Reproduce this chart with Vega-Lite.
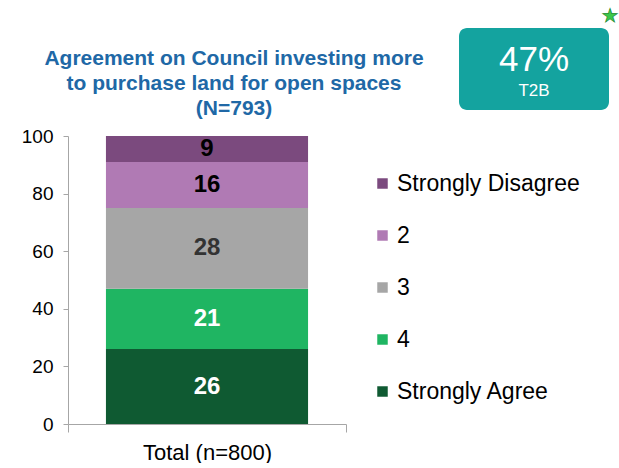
{
  "$schema": "https://vega.github.io/schema/vega-lite/v6.json",
  "background": "white",
  "padding": {"left": 21, "top": 7, "right": 0, "bottom": 0},
  "config": {
    "font": "Liberation Sans",
    "view": {"stroke": null}
  },
  "columns": 2,
  "bounds": "flush",
  "align": "each",
  "spacing": {"row": 26, "column": 59},
  "concat": [
    {
      "width": 332,
      "height": 82,
      "data": {"values": [{"title": "Agreement"}]},
      "mark": {
        "type": "text",
        "text": ["Agreement on Council investing more", "to purchase land for open spaces", "(N=793)"],
        "fontSize": 21,
        "fontWeight": "bold",
        "color": "#2068A6",
        "lineHeight": 25,
        "baseline": "middle",
        "align": "center",
        "dy": -10
      },
      "encoding": {}
    },
    {
      "width": 150,
      "height": 82,
      "view": {"fill": "#14A39F", "stroke": null, "cornerRadius": 8},
      "data": {"values": [{"value": "47%", "label": "T2B"}]},
      "layer": [
        {
          "mark": {"type": "text", "fontSize": 35, "color": "white", "baseline": "middle", "dy": -9},
          "encoding": {"text": {"field": "value", "type": "nominal"}}
        },
        {
          "mark": {"type": "text", "fontSize": 17, "color": "white", "baseline": "middle", "dy": 22},
          "encoding": {"text": {"field": "label", "type": "nominal"}}
        },
        {
          "mark": {"type": "text", "text": "★", "font": "DejaVu Sans", "fontSize": 19, "color": "#3CC84A", "stroke": "#1F8B31", "strokeWidth": 0.7, "baseline": "middle", "dx": 76, "dy": -53},
          "encoding": {}
        }
      ]
    },
    {
      "width": 278,
      "height": 288,
      "data": {
        "values": [
          {"group": "Total (n=800)", "response": "Strongly Agree", "code": 5, "pct": 26},
          {"group": "Total (n=800)", "response": "4", "code": 4, "pct": 21},
          {"group": "Total (n=800)", "response": "3", "code": 3, "pct": 28},
          {"group": "Total (n=800)", "response": "2", "code": 2, "pct": 16},
          {"group": "Total (n=800)", "response": "Strongly Disagree", "code": 1, "pct": 9}
        ]
      },
      "encoding": {
        "x": {
          "field": "group",
          "type": "nominal",
          "title": null,
          "scale": {"paddingInner": 0, "paddingOuter": 0},
          "axis": {
            "labelAngle": 0,
            "labelFontSize": 22,
            "labelColor": "#000000",
            "labelPadding": 10,
            "domainColor": "#A6A6A6",
            "ticks": true,
            "tickBand": "extent",
            "tickSize": 8,
            "tickColor": "#A6A6A6"
          }
        },
        "y": {
          "field": "pct",
          "type": "quantitative",
          "stack": "zero",
          "title": null,
          "scale": {"domain": [0, 100], "nice": false},
          "axis": {
            "values": [0, 20, 40, 60, 80, 100],
            "grid": false,
            "labelFontSize": 19,
            "labelColor": "#000000",
            "labelPadding": 10,
            "tickSize": 5,
            "tickColor": "#A6A6A6",
            "domainColor": "#A6A6A6"
          }
        },
        "order": {"field": "code", "type": "quantitative", "sort": "descending"}
      },
      "layer": [
        {
          "mark": {"type": "bar", "width": {"band": 0.727}},
          "encoding": {
            "color": {
              "field": "response",
              "type": "nominal",
              "scale": {
                "domain": ["Strongly Disagree", "2", "3", "4", "Strongly Agree"],
                "range": ["#7B4A7E", "#B07AB4", "#A6A6A6", "#1FB562", "#0F5A32"]
              },
              "legend": {
                "title": null,
                "orient": "none",
                "legendX": 303,
                "legendY": 144,
                "labelFontSize": 23,
                "labelColor": "#000000",
                "labelLimit": 400,
                "symbolType": "square",
                "symbolSize": 110,
                "symbolStrokeWidth": 0,
                "rowPadding": 28,
                "labelOffset": 3
              }
            }
          }
        },
        {
          "mark": {"type": "text", "fontSize": 24, "fontWeight": "bold", "baseline": "middle"},
          "encoding": {
            "y": {"field": "pct", "type": "quantitative", "stack": "zero", "bandPosition": 0.5},
            "detail": {"field": "response", "type": "nominal"},
            "text": {"field": "pct", "type": "quantitative"},
            "color": {
              "condition": [
                {"test": "datum.response === '4' || datum.response === 'Strongly Agree'", "value": "#FFFFFF"},
                {"test": "datum.response === '3'", "value": "#333333"}
              ],
              "value": "#000000"
            }
          }
        }
      ]
    }
  ]
}
